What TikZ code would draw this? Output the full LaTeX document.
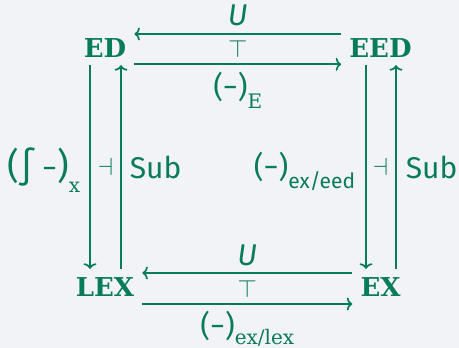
\documentclass[tikz,border=0pt]{standalone}
\usepackage{fontspec}
\setmainfont{Fira Sans}
\newfontfamily\objfont{DejaVu Serif}
\newfontfamily\subfont{DejaVu Serif}
\usetikzlibrary{arrows.meta}
\definecolor{catgreen}{HTML}{087C58}
\definecolor{paper}{HTML}{F2F3F7}
% lowered subscript that does not change the label's height
\newcommand\lowsub[2]{\smash{\raisebox{-#1}{#2}}}

\begin{document}
\begin{tikzpicture}[x=1pt, y=-1pt,
  obj/.style={font=\objfont\bfseries\fontsize{26}{30}\selectfont, text=catgreen,
              inner xsep=8pt, inner ysep=8pt, text height=19pt, text depth=0pt},
  arr/.style={-{Computer Modern Rightarrow[length=5.5pt,width=13pt]},
              line width=1.7pt, draw=catgreen},
  lbl/.style={font=\fontsize{30}{36}\selectfont, text=catgreen, inner sep=0pt},
  sym/.style={lbl, font=\fontsize{24}{28}\selectfont}
]
\useasboundingbox (0,0) rectangle (459,348);
\fill[paper] (0,0) rectangle (459,348);

\node[obj] (ED)  at (105,47.5)   {ED};
\node[obj] (EED) at (380.5,47.5) {EED};
\node[obj] (LEX) at (105,286.5)  {LEX};
\node[obj] (EX)  at (380.5,286.5){EX};

% top pair
\draw[arr] ([yshift=13.5pt]EED.west) -- node[lbl, above=7.5pt]{\itshape U} ([yshift=13.5pt]ED.east);
\draw[arr] ([yshift=-16.8pt]ED.east) -- node[sym, above=6pt]{$\top$}
  node[lbl, below=7pt]{(−)\lowsub{11pt}{\subfont\fontsize{20}{24}\selectfont E}} ([yshift=-16.8pt]EED.west);

% bottom pair
\draw[arr] ([yshift=13.5pt]EX.west) -- node[lbl, above=6pt]{\itshape U} ([yshift=13.5pt]LEX.east);
\draw[arr] ([yshift=-17.5pt]LEX.east) -- node[sym, above=6pt]{$\top$}
  node[lbl, below=6pt]{(−)\lowsub{8pt}{\subfont\fontsize{20}{24}\selectfont ex/lex}} ([yshift=-17.5pt]EX.west);

% left pair
\draw[arr] ([xshift=-15pt]ED.south) -- node[lbl, left=9pt]{{\fontsize{36}{40}\selectfont(∫} −{\fontsize{36}{40}\selectfont)}\lowsub{14pt}{\subfont\fontsize{20}{24}\selectfont x}} ([xshift=-15pt]LEX.north);
\draw[arr] ([xshift=16pt]LEX.north) -- node[lbl, right=8pt]{Sub}
  node[sym, left=7pt]{$\dashv$} ([xshift=16pt]ED.south);

% right pair
\draw[arr] ([xshift=-14.5pt]EED.south) -- node[lbl, left=10pt]{(−)\lowsub{11pt}{\fontsize{21}{25}\selectfont ex/eed}} ([xshift=-14.5pt]EX.north);
\draw[arr] ([xshift=15.5pt]EX.north) -- node[lbl, right=9pt]{Sub}
  node[sym, left=7pt]{$\dashv$} ([xshift=15.5pt]EED.south);
\end{tikzpicture}
\end{document}
